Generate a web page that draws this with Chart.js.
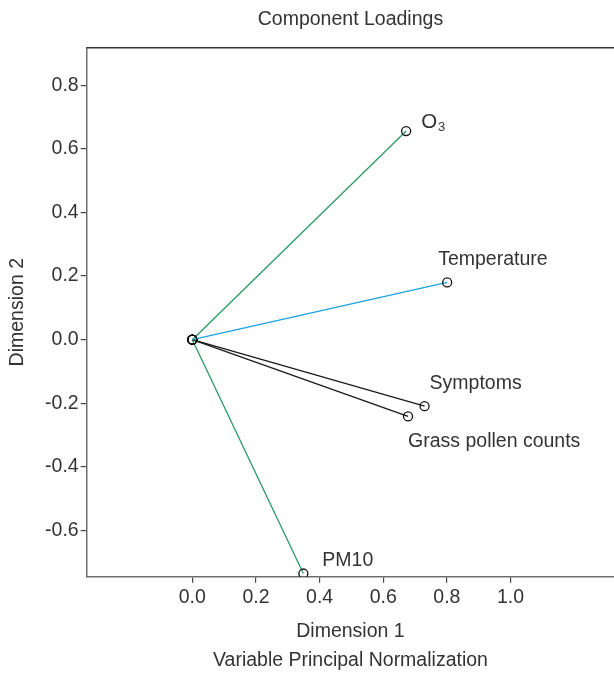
<!DOCTYPE html>
<html>
<head>
<meta charset="utf-8">
<script src="https://cdn.jsdelivr.net/npm/chart.js@4.4.1/dist/chart.umd.min.js"></script>
<style>
  html, body { margin: 0; padding: 0; background: #fff; overflow: hidden; }
  #wrap { width: 614px; height: 675px; overflow: hidden; }
</style>
</head>
<body>
<div id="wrap"><canvas id="loadings" width="620" height="675"></canvas></div>
<script>
// variables and their loadings
const variables = ['O3', 'Temperature', 'Symptoms', 'Grass pollen counts', 'PM10'];
const dim1 = [0.672, 0.801, 0.730, 0.678, 0.349];
const dim2 = [0.656, 0.180, -0.209, -0.241, -0.735];

const xTicks = [0.0, 0.2, 0.4, 0.6, 0.8, 1.0];
const yTicks = [-0.6, -0.4, -0.2, 0.0, 0.2, 0.4, 0.6, 0.8];

const FONT = "'Liberation Sans', Arial, sans-serif";
const TEXT = '#333333';
const FS = 19.5;

// line colour per variable
const lineColors = ['#2a9a66', '#1aa3e3', '#1a1a1a', '#1a1a1a', '#2a9a66'];
// label offsets from the vector end (px): dx, dy to baseline
const labelOffsets = [[15, -3], [-9, -17], [5, -17], [0, 31], [19, -8]];

const datasets = variables.map((name, i) => ({
    label: name,
    data: [{x: 0, y: 0}, {x: dim1[i], y: dim2[i]}],
    showLine: true,
    borderColor: lineColors[i],
    borderWidth: 1.3,
    pointRadius: 4.5,
    pointBorderWidth: 1.3,
    pointBorderColor: '#111',
    pointBackgroundColor: 'rgba(0,0,0,0)'
}));

// labels next to vector ends + top frame line
const labelPlugin = {
    id: 'labels',
    afterDatasetsDraw(chart) {
        const ctx = chart.ctx;
        const xs = chart.scales.x, ys = chart.scales.y;
        const area = chart.chartArea;
        ctx.save();
        ctx.strokeStyle = '#333';
        ctx.lineWidth = 1.5;
        ctx.beginPath();
        ctx.moveTo(area.left, area.top);
        ctx.lineTo(area.right, area.top);
        ctx.stroke();

        ctx.fillStyle = TEXT;
        ctx.textBaseline = 'alphabetic';
        ctx.textAlign = 'left';
        variables.forEach((name, i) => {
            const px = xs.getPixelForValue(dim1[i]) + labelOffsets[i][0];
            const py = ys.getPixelForValue(dim2[i]) + labelOffsets[i][1];
            if (name === 'O3') {
                ctx.font = `${FS + 1}px ${FONT}`;
                ctx.fillText('O', px, py);
                const w = ctx.measureText('O').width;
                ctx.font = `13px ${FONT}`;
                ctx.fillText('3', px + w + 1, py + 3);
            } else {
                ctx.font = `${FS}px ${FONT}`;
                ctx.fillText(name, px, py);
            }
        });
        ctx.restore();
    }
};

new Chart(document.getElementById('loadings'), {
    type: 'scatter',
    data: { datasets: datasets },
    options: {
        responsive: false,
        animation: false,
        layout: { padding: 0 },
        plugins: {
            legend: { display: false },
            tooltip: { enabled: false },
            title: {
                display: true,
                fullSize: false,
                text: 'Component Loadings',
                color: TEXT,
                font: { family: FONT, size: FS, weight: 'normal', lineHeight: 1.2 },
                padding: { top: 8, bottom: 16.3 }
            }
        },
        scales: {
            x: {
                type: 'linear',
                min: -0.332,
                max: 1.326,
                afterBuildTicks: s => { s.ticks = xTicks.map(v => ({value: v})); },
                afterFit: s => { s.height = 98.3; },
                grid: { drawOnChartArea: false, drawTicks: true, tickLength: 6, color: '#444', lineWidth: 1.2 },
                border: { display: true, color: '#6e6e6e', width: 1.5 },
                ticks: {
                    autoSkip: false, maxRotation: 0, padding: 3,
                    color: TEXT,
                    font: { family: FONT, size: FS },
                    callback: v => Number(v).toFixed(1)
                },
                title: {
                    display: true,
                    text: ['Dimension 1', 'Variable Principal Normalization'],
                    color: TEXT,
                    font: { family: FONT, size: FS, lineHeight: 1.49 },
                    padding: { top: 0, bottom: 0 }
                }
            },
            y: {
                type: 'linear',
                min: -0.745,
                max: 0.918,
                afterBuildTicks: s => { s.ticks = yTicks.map(v => ({value: v})); },
                afterFit: s => { s.width = 86.7; },
                grid: { drawOnChartArea: false, drawTicks: true, tickLength: 6, color: '#444', lineWidth: 1.2 },
                border: { display: true, color: '#6e6e6e', width: 1.5 },
                ticks: {
                    autoSkip: false, padding: 2,
                    color: TEXT,
                    font: { family: FONT, size: FS },
                    callback: v => Number(v).toFixed(1)
                },
                title: {
                    display: true,
                    text: 'Dimension 2',
                    color: TEXT,
                    font: { family: FONT, size: FS, lineHeight: 1.2 },
                    padding: { top: 6, bottom: 0 }
                }
            }
        }
    },
    plugins: [labelPlugin]
});
</script>
</body>
</html>
